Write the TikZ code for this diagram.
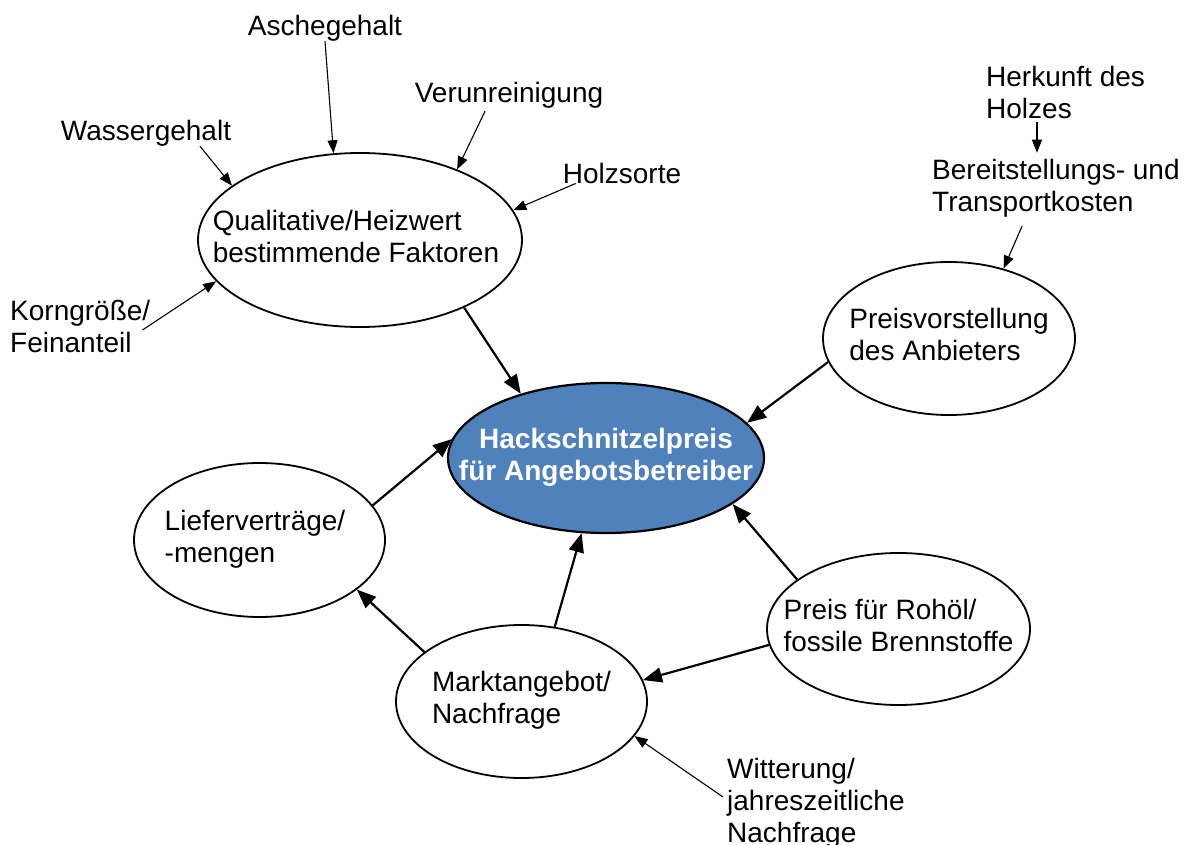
\documentclass[tikz,border=0pt]{standalone}
\usepackage{fontspec}
\setmainfont{Liberation Sans}
\usetikzlibrary{arrows.meta,shapes.geometric}
\definecolor{centerblue}{RGB}{79,129,189}
\newcommand{\elltext}[2][l]{\makebox[0pt]{\begin{tabular}{@{}#1@{}}#2\end{tabular}}}
\begin{document}
\begin{tikzpicture}[x=1pt,y=-1pt,
  every node/.style={font=\fontsize{28}{32}\selectfont},
  factor/.style={inner sep=0pt, align=left},
  ellnode/.style={ellipse, draw=black, line width=1.8pt, fill=white, inner sep=0pt},
  bigarrow/.style={line width=2.2pt, -{Triangle[length=19pt,width=15pt]}},
  smallarrow/.style={line width=1.1pt, -{Triangle[length=13pt,width=10pt]}}
]
\useasboundingbox (0,0) rectangle (1184,845);
\fill[white] (0,0) rectangle (1184,845);

% ellipses
\node[ellnode, minimum width=324pt, minimum height=174pt] (qual) at (360,240)
  {\raisebox{-4pt}{\hspace*{-8pt}\elltext{Qualitative/Heizwert\\bestimmende Faktoren}}};
\node[ellnode, fill=centerblue, line width=2.2pt, minimum width=316pt, minimum height=150pt,
  text=white, font=\fontsize{28}{32}\selectfont\bfseries] (price) at (606,458)
  {\raisebox{3pt}{\elltext[c]{Hackschnitzelpreis\\für Angebotsbetreiber}}};
\node[ellnode, minimum width=252pt, minimum height=153pt] (pv) at (949,338.5)
  {\raisebox{-4pt}{\elltext{Preisvorstellung\\des Anbieters}}};
\node[ellnode, minimum width=251pt, minimum height=154pt] (liefer) at (259.5,540)
  {\raisebox{-4pt}{\hspace*{-9pt}\elltext{Lieferverträge/\\-mengen}}};
\node[ellnode, minimum width=251pt, minimum height=153pt] (markt) at (521.5,701.5)
  {\raisebox{-4pt}{\elltext{Marktangebot/\\Nachfrage}}};
\node[ellnode, minimum width=263pt, minimum height=152pt] (oil) at (898.5,629)
  {\raisebox{-4pt}{\elltext{Preis für Rohöl/\\fossile Brennstoffe}}};

% factor texts
\node[factor] (asche) at (325,28) {Aschegehalt};
\node[factor] (verun) at (509,95) {Verunreinigung};
\node[factor] (wasser) at (146,133) {Wassergehalt};
\node[factor] (holz) at (622,173) {Holzsorte};
\node[factor, anchor=west] (korn) at (10,326) {Korngröße/\\Feinanteil};
\node[factor, anchor=west] (herk) at (986,92) {Herkunft des\\Holzes};
\node[factor, anchor=west] (bereit) at (932,188) {Bereitstellungs- und\\Transportkosten};
\node[factor, anchor=west] (witt) at (727,803) {Witterung/\\jahreszeitliche\\Nachfrage};

% thin arrows
\draw[smallarrow] (asche.south) -- (qual.107);
\draw[smallarrow] ([xshift=-24pt,yshift=-3pt]verun.south) -- (qual.36.6);
\draw[smallarrow] ([xshift=54pt]wasser.south) -- (qual.157);
\draw[smallarrow] ([xshift=13pt]holz.south west) -- (qual.11);
\draw[smallarrow] ([xshift=-8pt,yshift=-4pt]korn.east) -- (qual.196.5);
\draw[smallarrow] ([xshift=51pt,yshift=-4pt]herk.south west) -- ([xshift=105pt,yshift=6pt]bereit.north west);
\draw[smallarrow] ([xshift=90pt,yshift=-9pt]bereit.south west) -- (pv.52);
\draw[smallarrow] ([xshift=-4pt,yshift=6pt]witt.west) -- (markt.343.6);

% thick arrows
\draw[bigarrow] (qual.327.5) -- (price.143);
\draw[bigarrow] (pv.191.4) -- (price.14.3);
\draw[bigarrow] (liefer.17.3) -- (price.173.4);
\draw[bigarrow] (markt.66.8) -- (price.252.3);
\draw[bigarrow] (oil.154.7) -- (price.340.9);
\draw[bigarrow] (oil.187) -- (markt.10.9);
\draw[bigarrow] (markt.153.3) -- (liefer.333.6);
\end{tikzpicture}
\end{document}
